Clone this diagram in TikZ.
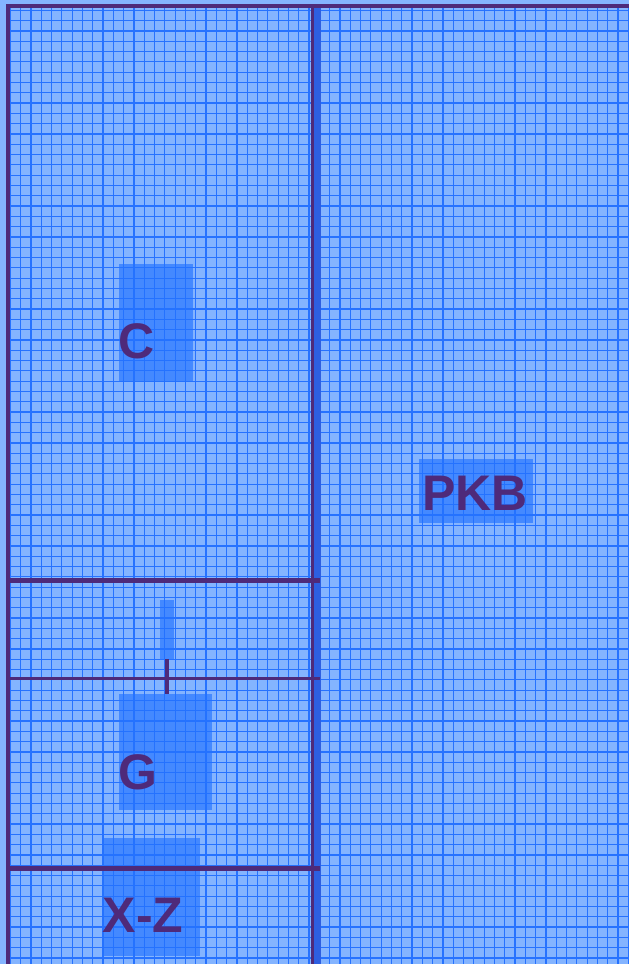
\documentclass[tikz,border=0pt]{standalone}
\usepackage{fontspec}
\setmainfont{Liberation Sans}
\usepackage{tikz}
\usetikzlibrary{positioning}
\definecolor{planbg}{RGB}{132,180,255}
\definecolor{gridblue}{RGB}{38,114,255}
\definecolor{wall}{RGB}{78,42,122}
\definecolor{zone}{RGB}{35,115,255}
\definecolor{band}{RGB}{45,95,225}
\begin{document}
\begin{tikzpicture}[
    x=1pt, y=-1pt,
    font=\bfseries\fontsize{50}{50}\selectfont,
    zone/.style={fill=zone, fill opacity=0.65, draw=none, inner sep=0pt},
    tag/.style={text=wall, inner sep=0pt, anchor=center},
    wall/.style={draw=wall, line width=3pt},
    thickwall/.style={draw=wall, line width=5pt}
]
\useasboundingbox (0,0) rectangle (629,964);
\fill[planbg] (0,0) rectangle (629,964);
% main grid
\draw[gridblue, line width=1.2pt, step=10.3pt] (6.7,6.1) grid (629,964);

% zones behind the labels
\node[zone, minimum width=74pt, minimum height=118pt, anchor=north west] (czone) at (119,264) {};
\node[zone, minimum width=14pt, minimum height=59pt, anchor=north west] (gstub) at (160,600) {};
\node[zone, minimum width=93pt, minimum height=116pt, anchor=north west] (gzone) at (119,694) {};
\node[zone, minimum width=97pt, minimum height=118pt, anchor=north west] (xzone) at (103,838) {};
\node[zone, minimum width=114pt, minimum height=64pt, anchor=north west] (pzone) at (419,459) {};

% walls
\fill[band] (313,7) rectangle (321,964);
\coordinate (tl) at (7.5,5.5);
\coordinate (tr) at (629,5.5);
\coordinate (bl) at (7.5,964);
\draw[wall, line width=4pt] (bl) -- (tl) -- (tr);
\coordinate (mtop) at (312,7);
\coordinate (mbot) at (312,964);
\draw[wall, line width=3pt] (mtop) -- (mbot);
\coordinate (h1l) at (7,580.5);
\coordinate (h1r) at (320,580.5);
\draw[thickwall] (h1l) -- (h1r);
\coordinate (h2l) at (7,678);
\coordinate (h2r) at (320,678);
\draw[wall] (h2l) -- (h2r);
\coordinate (h3l) at (7,868.5);
\coordinate (h3r) at (320,868.5);
\draw[thickwall] (h3l) -- (h3r);
\draw[wall, line width=4pt] (gstub.south) -- (gzone.north -| gstub.south);

% labels
\node[tag] (clabel) at (137,341) {C};
\node[tag] (glabel) at (138,772) {G};
\node[tag] (xlabel) at (143,915) {X-Z};
\node[tag] (plabel) at (475,493) {PKB};
\end{tikzpicture}
\end{document}
